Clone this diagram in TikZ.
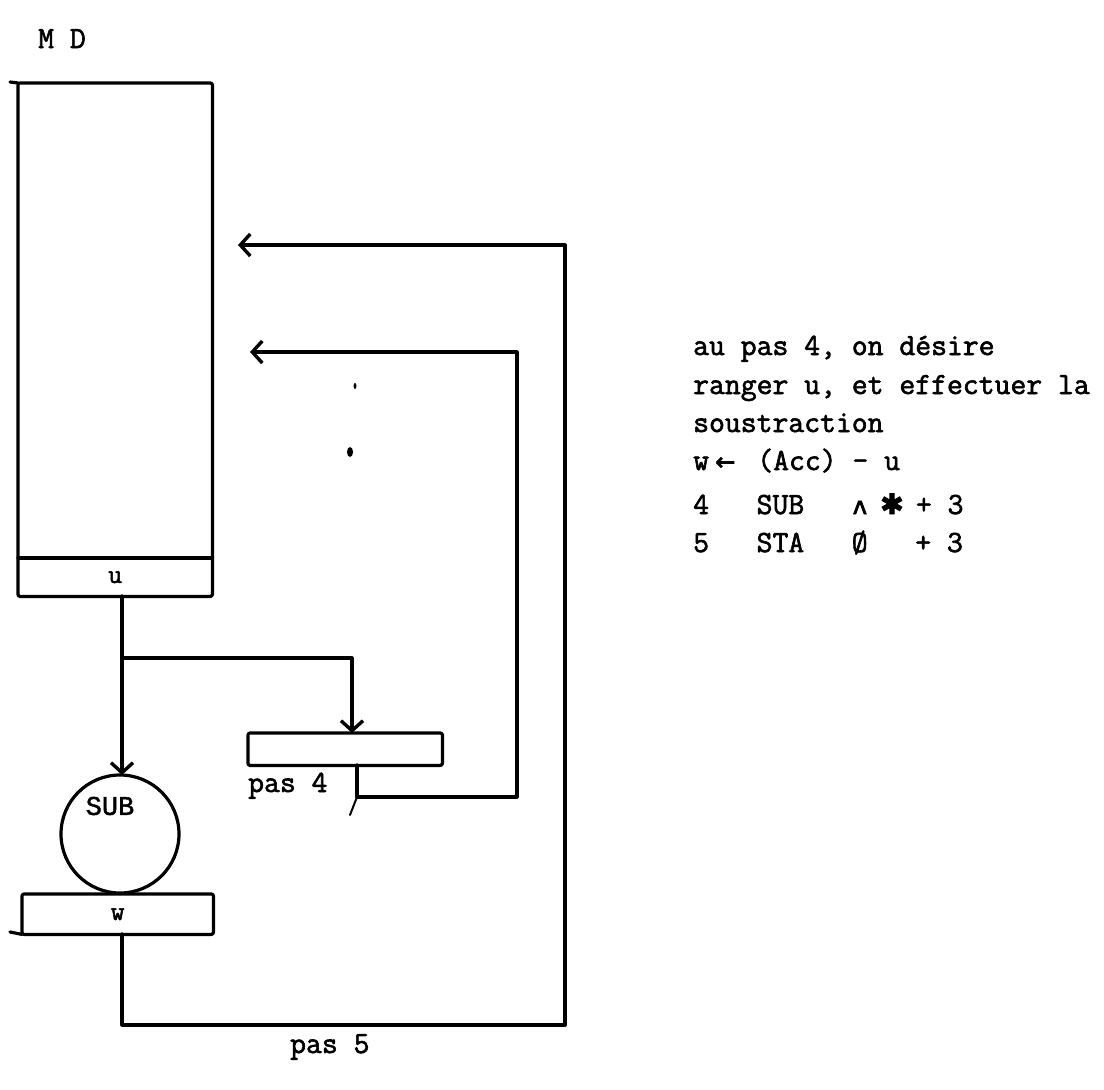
\documentclass[tikz,border=0pt]{standalone}
\usepackage{fontspec}
\setmonofont{Latin Modern Mono}[FakeBold=2]
\newfontfamily\lmono{Liberation Mono}[FakeBold=1.5]
\newfontfamily\dvsans{DejaVu Sans}[FakeBold=3]
\usetikzlibrary{arrows.meta}
\begin{document}
\begin{tikzpicture}[x=1pt,y=-1pt,
  ln/.style={line width=3.2pt, line cap=round, line join=round},
  arr/.style={ln, -{Straight Barb[length=10pt,width=22pt,line width=3.4pt]}},
  tt/.style={font=\fontsize{30.8}{30.8}\selectfont\ttfamily, inner sep=0pt, anchor=base west},
  lbl/.style={font=\fontsize{27}{27}\selectfont\ttfamily, inner sep=0pt},
  slot/.style={inner sep=0pt, anchor=north west}]
\useasboundingbox (0,0) rectangle (1104,1090);
% memory
\node[tt] (md) at (38,48) {M~D};
\node[slot, minimum width=194pt, minimum height=475pt] (mem) at (18,83) {};
\node[slot, minimum width=194pt, minimum height=38pt, lbl] (u) at (18,558) {u};
\draw[ln, rounded corners=2pt] (mem.north west) rectangle (u.south east);
\draw[ln] (u.north west) -- (u.north east);
\draw[ln] (10,82) -- (mem.north west);
% pas 4 register
\node[slot, minimum width=194pt, minimum height=32pt] (p4) at (248,733) {};
\draw[ln, rounded corners=2pt] (p4.north west) rectangle (p4.south east);
\node[tt] (p4l) at (248,792) {pas~4};
% SUB operator
\node[circle, minimum size=118pt, inner sep=0pt] (sub) at (120,834) {};
\draw[ln] (sub) circle[radius=59pt];
\node[font=\fontsize{27}{27}\selectfont\lmono, inner sep=0pt] (subl) at (110,806) {SUB};
% w register
\node[slot, minimum width=191pt, minimum height=40pt, lbl] (w) at (22,894) {w};
\draw[ln, rounded corners=2pt] (w.north west) rectangle (w.south east);
\draw[ln] (10,932) -- (w.south west);
\node[tt] (p5l) at (290,1053) {pas~5};
% connectors
\coordinate (ud) at (122,596);
\coordinate (br) at (122,658);
\coordinate (p4t) at (352,733);
\draw[arr] (ud) -- (br) -- (122,775);
\draw[arr] (br) -| (p4t);
\coordinate (p4o) at (357,765);
\coordinate (c1) at (517,797);
\coordinate (a2) at (250,352);
\draw[arr] (p4o) |- (c1) |- (a2);
\draw[ln, line width=2pt] (357,797) -- (350,815);
\coordinate (wo) at (122,934);
\coordinate (c2) at (565,1025);
\coordinate (a1) at (238,245);
\draw[arr] (wo) |- (c2) |- (a1);
% stray marks
\fill (355,386) ellipse (1.5pt and 3pt);
\fill (350,452) ellipse (3pt and 5pt);
% text
\node[tt] (t1) at (693,355) {au~pas~4,~on~désire};
\node[tt] (t2) at (693,394) {ranger~u,~et~effectuer~la};
\node[tt] (t3) at (693,432) {soustraction};
\node[tt] (t4) at (693,470) {w\makebox[32.4pt]{\dvsans\fontsize{24}{24}\selectfont ←}~(Acc)~-~u};
\node[tt] (t5) at (693,514) {4~~~SUB~~~\makebox[16.2pt]{\dvsans\fontsize{24}{24}\selectfont ʌ}~\makebox[16.2pt]{\dvsans\fontsize{28}{28}\selectfont ✱}~+~3};
\node[tt] (t6) at (693,552) {5~~~STA~~~Ø~~~+~3};
\end{tikzpicture}
\end{document}
